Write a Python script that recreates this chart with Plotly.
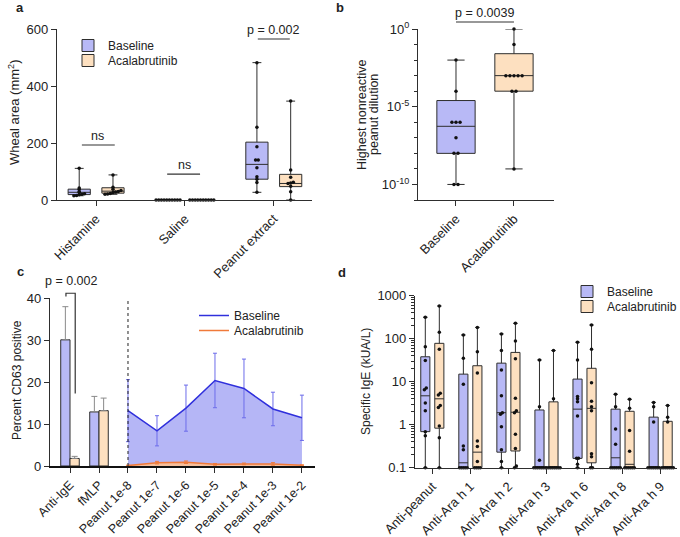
import numpy as np
import plotly.graph_objects as go

W, H = 680, 537
FONT = "Liberation Sans, Arial, sans-serif"
BLUE_FILL = "#b8b9f6"
ORANGE_FILL = "#fde0c0"
EDGE = "#2e2e2e"

# ---------------- Panel a : wheal area ----------------
a_groups = ["Histamine", "Saline", "Peanut extract"]
a_base_pts = [[111, 42, 38, 30, 26, 22, 20, 18, 16, 15],
              [0, 0, 0, 0, 0, 0, 0, 0, 0, 0],
              [482, 255, 187, 140, 140, 113, 82, 73, 61, 27]]
a_acal_pts = [[88, 45, 38, 33, 30, 28, 26, 23, 21, 20],
              [0, 0, 0, 0, 0, 0, 0, 0, 0, 0],
              [347, 105, 80, 62, 60, 58, 48, 29, 0]]
a_base_q1 = [19, 0, 73]
a_base_med = [27, 0, 125]
a_base_q3 = [38, 0, 203]
a_base_lo = [15, 0, 27]
a_base_hi = [111, 0, 482]
a_acal_q1 = [24, 0, 47]
a_acal_med = [31, 0, 58]
a_acal_q3 = [43, 0, 90]
a_acal_lo = [20, 0, 0]
a_acal_hi = [88, 0, 347]
a_ticks = [0, 200, 400, 600]

# ---------------- Panel b : nonreactive dilution ----------------
b_groups = ["Baseline", "Acalabrutinib"]
b_base_pts = [1e-2, 1e-4, 1e-6, 1e-6, 1e-6, 1e-7, 1e-8, 1e-8, 1e-10, 1e-10]
b_acal_pts = [1, 1e-1, 1e-3, 1e-3, 1e-3, 1e-3, 1e-3, 1e-4, 1e-4, 1e-9]
b_q1 = [1e-8, 1e-4]
b_med = [5.5e-7, 1e-3]
b_q3 = [2.5e-5, 2.58e-2]
b_lo = [1e-10, 1e-9]
b_hi = [1e-2, 1]

# ---------------- Panel c : basophil activation ----------------
c_categories = ["Anti-IgE", "fMLP", "Peanut 1e-8", "Peanut 1e-7", "Peanut 1e-6",
                "Peanut 1e-5", "Peanut 1e-4", "Peanut 1e-3", "Peanut 1e-2"]
c_bar_base = [30.1, 12.9]
c_bar_base_err = [7.9, 3.7]
c_bar_acal = [1.8, 13.2]
c_bar_acal_err = [0.5, 3.0]
c_line_base = [13.2, 8.4, 13.8, 20.4, 18.5, 13.6, 11.5]
c_line_base_sd = [7.4, 3.6, 5.5, 6.5, 7.0, 4.0, 5.4]
c_line_acal = [0.1, 0.8, 0.9, 0.4, 0.5, 0.5, 0.2]
c_line_acal_sd = [0.1, 0.3, 0.3, 0.2, 0.2, 0.3, 0.1]

# ---------------- Panel d : specific IgE ----------------
d_groups = ["Anti-peanut", "Anti-Ara h 1", "Anti-Ara h 2", "Anti-Ara h 3",
            "Anti-Ara h 6", "Anti-Ara h 8", "Anti-Ara h 9"]
d_base_pts = [[316, 65, 31, 7.1, 6.5, 3.2, 2.1, 0.69, 0.55, 0.1],
              [122, 35, 8.7, 0.32, 0.26, 0.1, 0.1, 0.1, 0.1, 0.1],
              [129, 53, 18.6, 4.7, 1.9, 1.75, 0.9, 0.26, 0.14, 0.1],
              [32, 2.6, 0.15, 0.1, 0.1, 0.1, 0.1, 0.1, 0.1, 0.1],
              [83, 32, 4.5, 4.0, 3.4, 1.6, 0.165, 0.165, 0.12, 0.1],
              [5.1, 2.6, 0.79, 0.35, 0.1, 0.1, 0.1, 0.1, 0.1, 0.1],
              [3.3, 2.6, 1.15, 0.1, 0.1, 0.1, 0.1, 0.1, 0.1, 0.1]]
d_acal_pts = [[575, 142, 57, 5.4, 4.9, 2.8, 2.5, 0.93, 0.5, 0.1],
              [183, 50, 16, 0.42, 0.31, 0.14, 0.1, 0.1, 0.1, 0.1],
              [228, 89, 34, 4.1, 2.1, 1.9, 0.6, 0.28, 0.11, 0.1],
              [53, 4.0, 0.1, 0.1, 0.1, 0.1, 0.1, 0.1, 0.1, 0.1],
              [208, 57, 9.5, 3.5, 2.6, 2.1, 0.21, 0.18, 0.1, 0.1],
              [3.9, 2.4, 0.73, 0.24, 0.1, 0.1, 0.1, 0.1, 0.1, 0.1],
              [2.8, 1.5, 1.15, 0.1, 0.1, 0.1, 0.1, 0.1, 0.1, 0.1]]
d_base_q1 = [0.69, 0.1, 0.23, 0.1, 0.165, 0.1, 0.1]
d_base_med = [4.7, 0.13, 1.9, 0.1, 2.3, 0.17, 0.1]
d_base_q3 = [38, 15, 27, 2.2, 11.5, 2.3, 1.5]
d_base_lo = [0.1, 0.1, 0.1, 0.1, 0.1, 0.1, 0.1]
d_base_hi = [316, 122, 129, 32, 83, 5.1, 3.3]
d_acal_q1 = [0.83, 0.1, 0.245, 0.1, 0.13, 0.1, 0.1]
d_acal_med = [4.0, 0.23, 1.95, 0.1, 2.4, 0.12, 0.1]
d_acal_q3 = [78, 23.5, 48, 3.4, 20.5, 2.05, 1.2]
d_acal_lo = [0.1, 0.1, 0.1, 0.1, 0.1, 0.1, 0.1]
d_acal_hi = [575, 183, 228, 53, 208, 3.9, 2.8]


def spread(center, vals, step, tol, log=False):
    """Place equal-valued points side by side (GraphPad style)."""
    v = np.asarray(vals, float)
    t = np.log10(v) if log else v
    order = np.argsort(t, kind="stable")
    clusters, cur = [], [order[0]]
    for i in order[1:]:
        if t[i] - t[cur[-1]] < tol:
            cur.append(i)
        else:
            clusters.append(cur)
            cur = [i]
    clusters.append(cur)
    xs = np.zeros(len(v))
    for c in clusters:
        k = len(c)
        for j, idx in enumerate(c):
            xs[idx] = center + (j - (k - 1) / 2) * step
    return xs


def points(groups_pts, offset, step, tol, log=False):
    xs, ys = [], []
    for i, pts in enumerate(groups_pts):
        xs.extend(spread(i + offset, pts, step, tol, log))
        ys.extend(pts)
    return xs, ys


fig = go.Figure()
box_line = dict(color=EDGE, width=1)
dot = dict(color="#111111", size=3.5)

# ---- panel a
for name, fill, off, q1, med, q3, lo, hi, pts, leg in [
        ("Baseline", BLUE_FILL, -0.19, a_base_q1, a_base_med, a_base_q3, a_base_lo, a_base_hi, a_base_pts, "legend"),
        ("Acalabrutinib", ORANGE_FILL, 0.19, a_acal_q1, a_acal_med, a_acal_q3, a_acal_lo, a_acal_hi, a_acal_pts, "legend4")]:
    fig.add_trace(go.Box(x=[i + off for i in range(len(a_groups))], q1=q1, median=med, q3=q3,
                         lowerfence=lo, upperfence=hi, width=0.25, whiskerwidth=0.4,
                         fillcolor=fill, line=box_line, name=name, legend=leg,
                         xaxis="x", yaxis="y", hoverinfo="skip"))
    px_, py_ = points(pts, off, 0.03, 4)
    fig.add_trace(go.Scatter(x=px_, y=py_, mode="markers", marker=dot, showlegend=False,
                             cliponaxis=False, xaxis="x", yaxis="y", hoverinfo="skip"))

# ---- panel b
for name, fill, i, pts in [("Baseline", BLUE_FILL, 0, b_base_pts),
                           ("Acalabrutinib", ORANGE_FILL, 1, b_acal_pts)]:
    fig.add_trace(go.Box(x=[i], q1=[b_q1[i]], median=[b_med[i]], q3=[b_q3[i]],
                         lowerfence=[b_lo[i]], upperfence=[b_hi[i]], width=0.66, whiskerwidth=0.45,
                         fillcolor=fill, line=box_line, name=name, showlegend=False,
                         xaxis="x2", yaxis="y2", hoverinfo="skip"))
    fig.add_trace(go.Scatter(x=spread(i, pts, 0.07, 0.1, log=True), y=pts, mode="markers",
                             marker=dot, showlegend=False, cliponaxis=False,
                             xaxis="x2", yaxis="y2", hoverinfo="skip"))

# ---- panel c
fig.add_trace(go.Bar(x=[0, 1], y=c_bar_base, width=0.32, offset=-0.32,
                     marker=dict(color=BLUE_FILL, line=dict(color=EDGE, width=1)),
                     error_y=dict(type="data", array=c_bar_base_err, arrayminus=[0, 0], symmetric=False,
                                  color="#8a8a8a", thickness=1, width=3),
                     showlegend=False, xaxis="x3", yaxis="y3", hoverinfo="skip"))
fig.add_trace(go.Bar(x=[0, 1], y=c_bar_acal, width=0.32, offset=0.0,
                     marker=dict(color=ORANGE_FILL, line=dict(color=EDGE, width=1)),
                     error_y=dict(type="data", array=c_bar_acal_err, arrayminus=[0, 0], symmetric=False,
                                  color="#8a8a8a", thickness=1, width=3),
                     showlegend=False, xaxis="x3", yaxis="y3", hoverinfo="skip"))
peanut_x = list(range(2, len(c_categories)))
# shaded areas under the curves
fig.add_trace(go.Scatter(x=peanut_x, y=c_line_base, mode="lines", line=dict(width=0),
                         fill="tozeroy", fillcolor="#b5b6f6", showlegend=False,
                         xaxis="x3", yaxis="y3", hoverinfo="skip"))
fig.add_trace(go.Scatter(x=peanut_x, y=c_line_acal, mode="lines", line=dict(width=0),
                         fill="tozeroy", fillcolor="#f6bf9c", showlegend=False,
                         xaxis="x3", yaxis="y3", hoverinfo="skip"))
# mean lines with SD
fig.add_trace(go.Scatter(x=peanut_x, y=c_line_base, mode="lines", name="Baseline",
                         line=dict(color="#3030dc", width=1.5),
                         error_y=dict(type="data", array=c_line_base_sd, color="#6c6cea",
                                      thickness=1, width=2),
                         legend="legend3", xaxis="x3", yaxis="y3", hoverinfo="skip"))
fig.add_trace(go.Scatter(x=peanut_x, y=c_line_acal, mode="lines", name="Acalabrutinib",
                         line=dict(color="#f07a3a", width=1.5),
                         error_y=dict(type="data", array=c_line_acal_sd, color="#f07a3a",
                                      thickness=1, width=2),
                         legend="legend6", xaxis="x3", yaxis="y3", hoverinfo="skip"))

# ---- panel d
for name, fill, off, q1, med, q3, lo, hi, pts, leg in [
        ("Baseline", BLUE_FILL, -0.184, d_base_q1, d_base_med, d_base_q3, d_base_lo, d_base_hi, d_base_pts, "legend2"),
        ("Acalabrutinib", ORANGE_FILL, 0.184, d_acal_q1, d_acal_med, d_acal_q3, d_acal_lo, d_acal_hi, d_acal_pts, "legend5")]:
    fig.add_trace(go.Box(x=[i + off for i in range(len(d_groups))], q1=q1, median=med, q3=q3,
                         lowerfence=lo, upperfence=hi, width=0.24, whiskerwidth=0.5,
                         fillcolor=fill, line=box_line, name=name, legend=leg,
                         xaxis="x4", yaxis="y4", hoverinfo="skip"))
    px_, py_ = points(pts, off, 0.05, 0.05, log=True)
    fig.add_trace(go.Scatter(x=px_, y=py_, mode="markers", marker=dot, showlegend=False,
                             cliponaxis=False, xaxis="x4", yaxis="y4", hoverinfo="skip"))


def dx(p):
    return p / W


def dy(p):
    return 1 - p / H


axis_common = dict(showline=True, linecolor=EDGE, linewidth=1.2, ticks="outside", ticklen=5,
                   tickwidth=1.2, tickcolor=EDGE, showgrid=False, zeroline=False, automargin=False,
                   tickfont=dict(family=FONT, size=13, color="#222"))

minor_b = dict(tickvals=[10.0 ** k for k in range(-11, 1)], ticklen=2.5, ticks="outside",
               tickcolor=EDGE, tickwidth=1)
minor_d = dict(tickvals=[m * 10.0 ** k for k in range(-1, 3) for m in range(2, 10)], ticklen=2.5,
               ticks="outside", tickcolor=EDGE, tickwidth=1)


def legend_at(x_px, top_px):
    return dict(x=dx(x_px), y=dy(top_px), xanchor="left", yanchor="top", bgcolor="rgba(0,0,0,0)",
                font=dict(family=FONT, size=12, color="#222"), tracegroupgap=0)


fig.update_layout(
    width=W, height=H, margin=dict(l=0, r=0, t=0, b=0, autoexpand=False),
    paper_bgcolor="white", plot_bgcolor="white",
    font=dict(family=FONT, size=12, color="#222"),
    barmode="overlay", boxmode="overlay",
    xaxis=dict(axis_common, domain=[dx(57), dx(312)], anchor="y", range=[-0.44, 2.43],
               tickmode="array", tickvals=list(range(len(a_groups))), ticktext=a_groups, tickangle=-45),
    yaxis=dict(axis_common, domain=[dy(200), dy(29)], anchor="x", range=[0, 600],
               tickmode="array", tickvals=a_ticks),
    xaxis2=dict(axis_common, domain=[dx(418), dx(554)], anchor="y2", range=[-0.655, 1.69],
                tickmode="array", tickvals=[0, 1], ticktext=b_groups, tickangle=-45),
    yaxis2=dict(axis_common, domain=[dy(200), dy(29)], anchor="x2", type="log", range=[-11, 0],
                tickmode="array", tickvals=[1, 1e-5, 1e-10],
                ticktext=["10<sup>0</sup>", "10<sup>-5</sup>", "10<sup>-10</sup>"], minor=minor_b),
    xaxis3=dict(axis_common, domain=[dx(50), dx(315)], anchor="y3", range=[-0.69, 8.45],
                tickmode="array", tickvals=list(range(len(c_categories))), ticktext=c_categories,
                tickangle=-45, linecolor="#111", linewidth=1.6,
                tickfont=dict(family=FONT, size=12.5, color="#222")),
    yaxis3=dict(axis_common, domain=[dy(466), dy(298.3)], anchor="x3", range=[0, 40],
                tickmode="array", tickvals=[0, 10, 20, 30, 40]),
    xaxis4=dict(axis_common, domain=[dx(415), dx(677)], anchor="y4", range=[-0.455, 6.43],
                tickmode="array", tickvals=list(range(len(d_groups))), ticktext=d_groups, tickangle=-45),
    yaxis4=dict(axis_common, domain=[dy(467.7), dy(295.7)], anchor="x4", type="log", range=[-1, 3],
                tickmode="array", tickvals=[0.1, 1, 10, 100, 1000],
                ticktext=["0.1", "1", "10", "100", "1000"], minor=minor_d),
    legend=legend_at(68, 31),
    legend4=legend_at(68, 46),
    legend3=legend_at(194, 301),
    legend6=legend_at(194, 316),
    legend2=legend_at(567, 277),
    legend5=legend_at(567, 292),
)

line_style = dict(color="#333", width=1.2)
shapes = [
    # panel a significance lines
    dict(type="line", xref="x", yref="y", x0=-0.16, x1=0.21, y0=193, y1=193, line=line_style),
    dict(type="line", xref="x", yref="y", x0=0.8, x1=1.17, y0=91, y1=91, line=line_style),
    dict(type="line", xref="x", yref="y", x0=1.82, x1=2.18, y0=565, y1=565, line=line_style),
    # panel b
    dict(type="line", xref="x2", yref="y2 domain", x0=0, x1=1, y0=1.041, y1=1.041, line=line_style),
    # panel c bracket and dashed divider
    dict(type="path", xref="x3", yref="y3 domain",
         path="M -0.14,1.01 L -0.14,1.03 L 0.18,1.03 L 0.18,0.4325", line=line_style),
    dict(type="line", xref="x3", yref="y3", x0=2, x1=2, y0=0, y1=40,
         line=dict(color="#222", width=1, dash="dot")),
]

ann = []


def text(x, y, s, size=12.5, xref="paper", yref="paper", xanchor="center", yanchor="middle", **kw):
    ann.append(dict(x=x, y=y, xref=xref, yref=yref, text=s, showarrow=False,
                    xanchor=xanchor, yanchor=yanchor,
                    font=dict(family=FONT, size=size, color="#222"), **kw))


# panel letters
text(dx(20), dy(8), "<b>a</b>", 13)
text(dx(340), dy(8), "<b>b</b>", 13)
text(dx(20), dy(271), "<b>c</b>", 13)
text(dx(342), dy(272), "<b>d</b>", 13)
# axis titles
text(dx(14), dy(113), "Wheal area (mm<sup>2</sup>)", 13, textangle=-90)
text(dx(362), dy(115), "Highest nonreactive", 12.5, textangle=-90)
text(dx(374), dy(115), "peanut dilution", 12.5, textangle=-90)
text(dx(17), dy(380), "Percent CD63 positive", 12, textangle=-90)
text(dx(366), dy(382), "Specific IgE (kUA/L)", 12, textangle=-90)
# significance texts
text(0.02, 193, "ns", 12.5, xref="x", yref="y", yanchor="bottom")
text(0.99, 91, "ns", 12.5, xref="x", yref="y", yanchor="bottom")
text(2.0, 565, "p = 0.002", 12.5, xref="x", yref="y", yanchor="bottom")
text(0.5, 1.041, "p = 0.0039", 12.5, xref="x2", yref="y2 domain", yanchor="bottom")
text(0.05, 1.103, "p = 0.002", 12.5, xref="x3", yref="y3 domain", yanchor="middle")

fig.update_layout(shapes=shapes, annotations=ann)
fig.write_html("out.html", config={"displayModeBar": False},
               post_script="document.body.style.margin='0px';")
